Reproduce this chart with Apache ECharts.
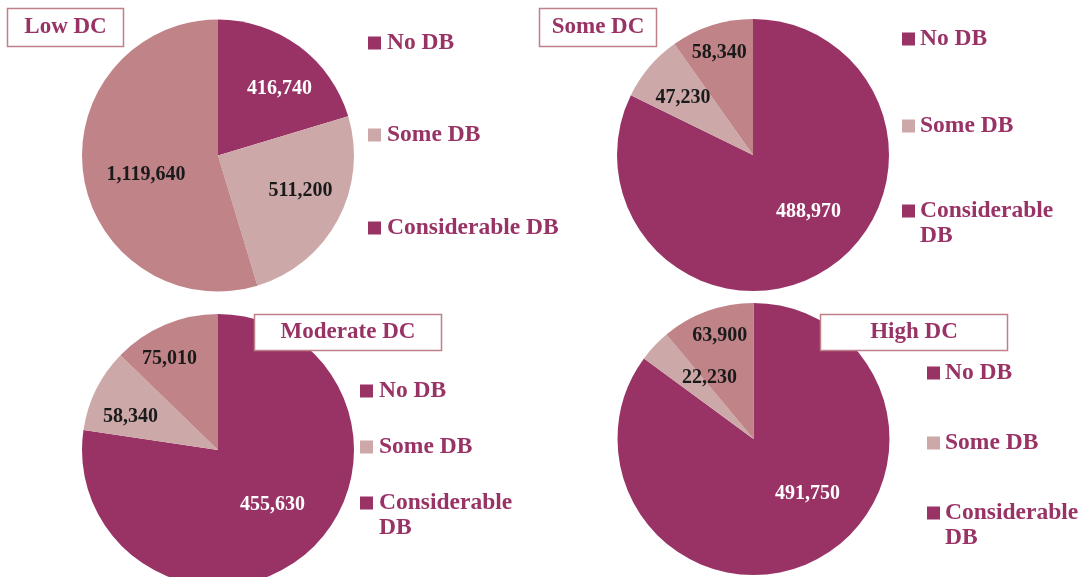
<!DOCTYPE html>
<html><head><meta charset="utf-8">
<script src="https://cdn.jsdelivr.net/npm/echarts@6/dist/echarts.min.js"></script>
<style>html,body{margin:0;padding:0;background:#fff}#main{width:1081px;height:577px}</style>
</head><body><div id="main"></div>
<script>
// ---- data ----
const categories = ['No DB', 'Some DB', 'Considerable DB'];
const panelTitles = ['Low DC', 'Some DC', 'Moderate DC', 'High DC'];
const lowDC = [416740, 511200, 1119640];
const someDC = [488970, 47230, 58340];
const moderateDC = [455630, 58340, 75010];
const highDC = [491750, 22230, 63900];
const seriesValues = [lowDC, someDC, moderateDC, highDC];

// ---- styles / layout ----
const sliceColors = ['#993366', '#CDA8A8', '#C08388'];
const legendColors = ['#993366', '#CDA8A8', '#993366'];
const labelColors = ['#ffffff', '#1a1a1a', '#1a1a1a'];
const textColor = '#993366';
const FONT = '"Liberation Serif", "Times New Roman", serif';
const centers = [[218, 155.5], [753, 155], [218, 450], [753.5, 439]];
const R = 136;
// [radius fraction, angle offset (deg) from slice mid-angle]
const labelPlacement = [
  [[0.666, 6.2], [0.659, -5.2], [0.549, -6.8]],
  [[0.582, -12.5], [0.664, -1.2], [0.79, -0.7]],
  [[0.569, -4], [0.689, -5.4], [0.762, -5]],
  [[0.564, -17.9], [0.556, 11.1], [0.80, 1.8]]
];
const titleBoxes = [
  {x: 7.5, y: 8.5, w: 116, h: 38},
  {x: 539.5, y: 8.5, w: 117, h: 38},
  {x: 254.5, y: 314.5, w: 187, h: 36},
  {x: 820.5, y: 314.5, w: 187, h: 36}
];
const legendLayouts = [
  {x: 368, tx: 387, ys: [43, 135, 228], wrap: false},
  {x: 902, tx: 920, ys: [39, 126, 211], wrap: true},
  {x: 360, tx: 379, ys: [391, 447, 503], wrap: true},
  {x: 927, tx: 945, ys: [373, 443, 513], wrap: true}
];

function midAngles(vals) {
  const t = vals.reduce((a, b) => a + b, 0);
  let acc = 0;
  return vals.map(v => { const m = (acc + v / 2) / t * 360; acc += v; return m; });
}
const mids = seriesValues.map(midAngles);

const chart = echarts.init(document.getElementById('main'), null, {renderer: 'canvas'});

const graphics = [];
titleBoxes.forEach((b, i) => {
  graphics.push({
    type: 'rect', z: 100, shape: {x: b.x, y: b.y, width: b.w, height: b.h},
    style: {fill: '#ffffff', stroke: '#C0808A', lineWidth: 1.5}
  });
  graphics.push({
    type: 'text', z: 101, x: b.x + b.w / 2, y: b.y + b.h / 2,
    style: {text: panelTitles[i], fill: textColor, font: 'bold 23px ' + FONT, align: 'center', verticalAlign: 'middle'}
  });
});
legendLayouts.forEach(L => {
  categories.forEach((c, i) => {
    const y = L.ys[i];
    graphics.push({
      type: 'rect', z: 100, shape: {x: L.x, y: y - 6.5, width: 13, height: 13},
      style: {fill: legendColors[i]}
    });
    const txt = (L.wrap && c === 'Considerable DB') ? 'Considerable\nDB' : c;
    graphics.push({
      type: 'text', z: 101, x: L.tx, y: y - 12.5,
      style: {text: txt, fill: textColor, font: 'bold 23.5px ' + FONT, lineHeight: 25, align: 'left', verticalAlign: 'top'}
    });
  });
});

chart.setOption({
  animation: false,
  backgroundColor: '#ffffff',
  graphic: graphics,
  series: seriesValues.map((vals, s) => ({
    type: 'pie',
    center: centers[s],
    radius: R,
    startAngle: 90,
    clockwise: true,
    avoidLabelOverlap: false,
    silent: true,
    itemStyle: {borderWidth: 0},
    label: {
      show: true, position: 'inside',
      formatter: p => p.value.toLocaleString('en-US'),
      fontFamily: FONT, fontWeight: 'bold', fontSize: 20
    },
    labelLine: {show: false},
    emphasis: {disabled: true},
    labelLayout: function (params) {
      const si = params.seriesIndex, di = params.dataIndex;
      const pl = labelPlacement[si][di];
      const th = (mids[si][di] + pl[1]) * Math.PI / 180;
      const r = pl[0] * R;
      return {
        x: centers[si][0] + r * Math.sin(th),
        y: centers[si][1] - r * Math.cos(th),
        align: 'center', verticalAlign: 'middle'
      };
    },
    data: vals.map((v, i) => ({
      name: categories[i], value: v,
      itemStyle: {color: sliceColors[i]},
      label: {color: labelColors[i]}
    }))
  }))
});
</script></body></html>
